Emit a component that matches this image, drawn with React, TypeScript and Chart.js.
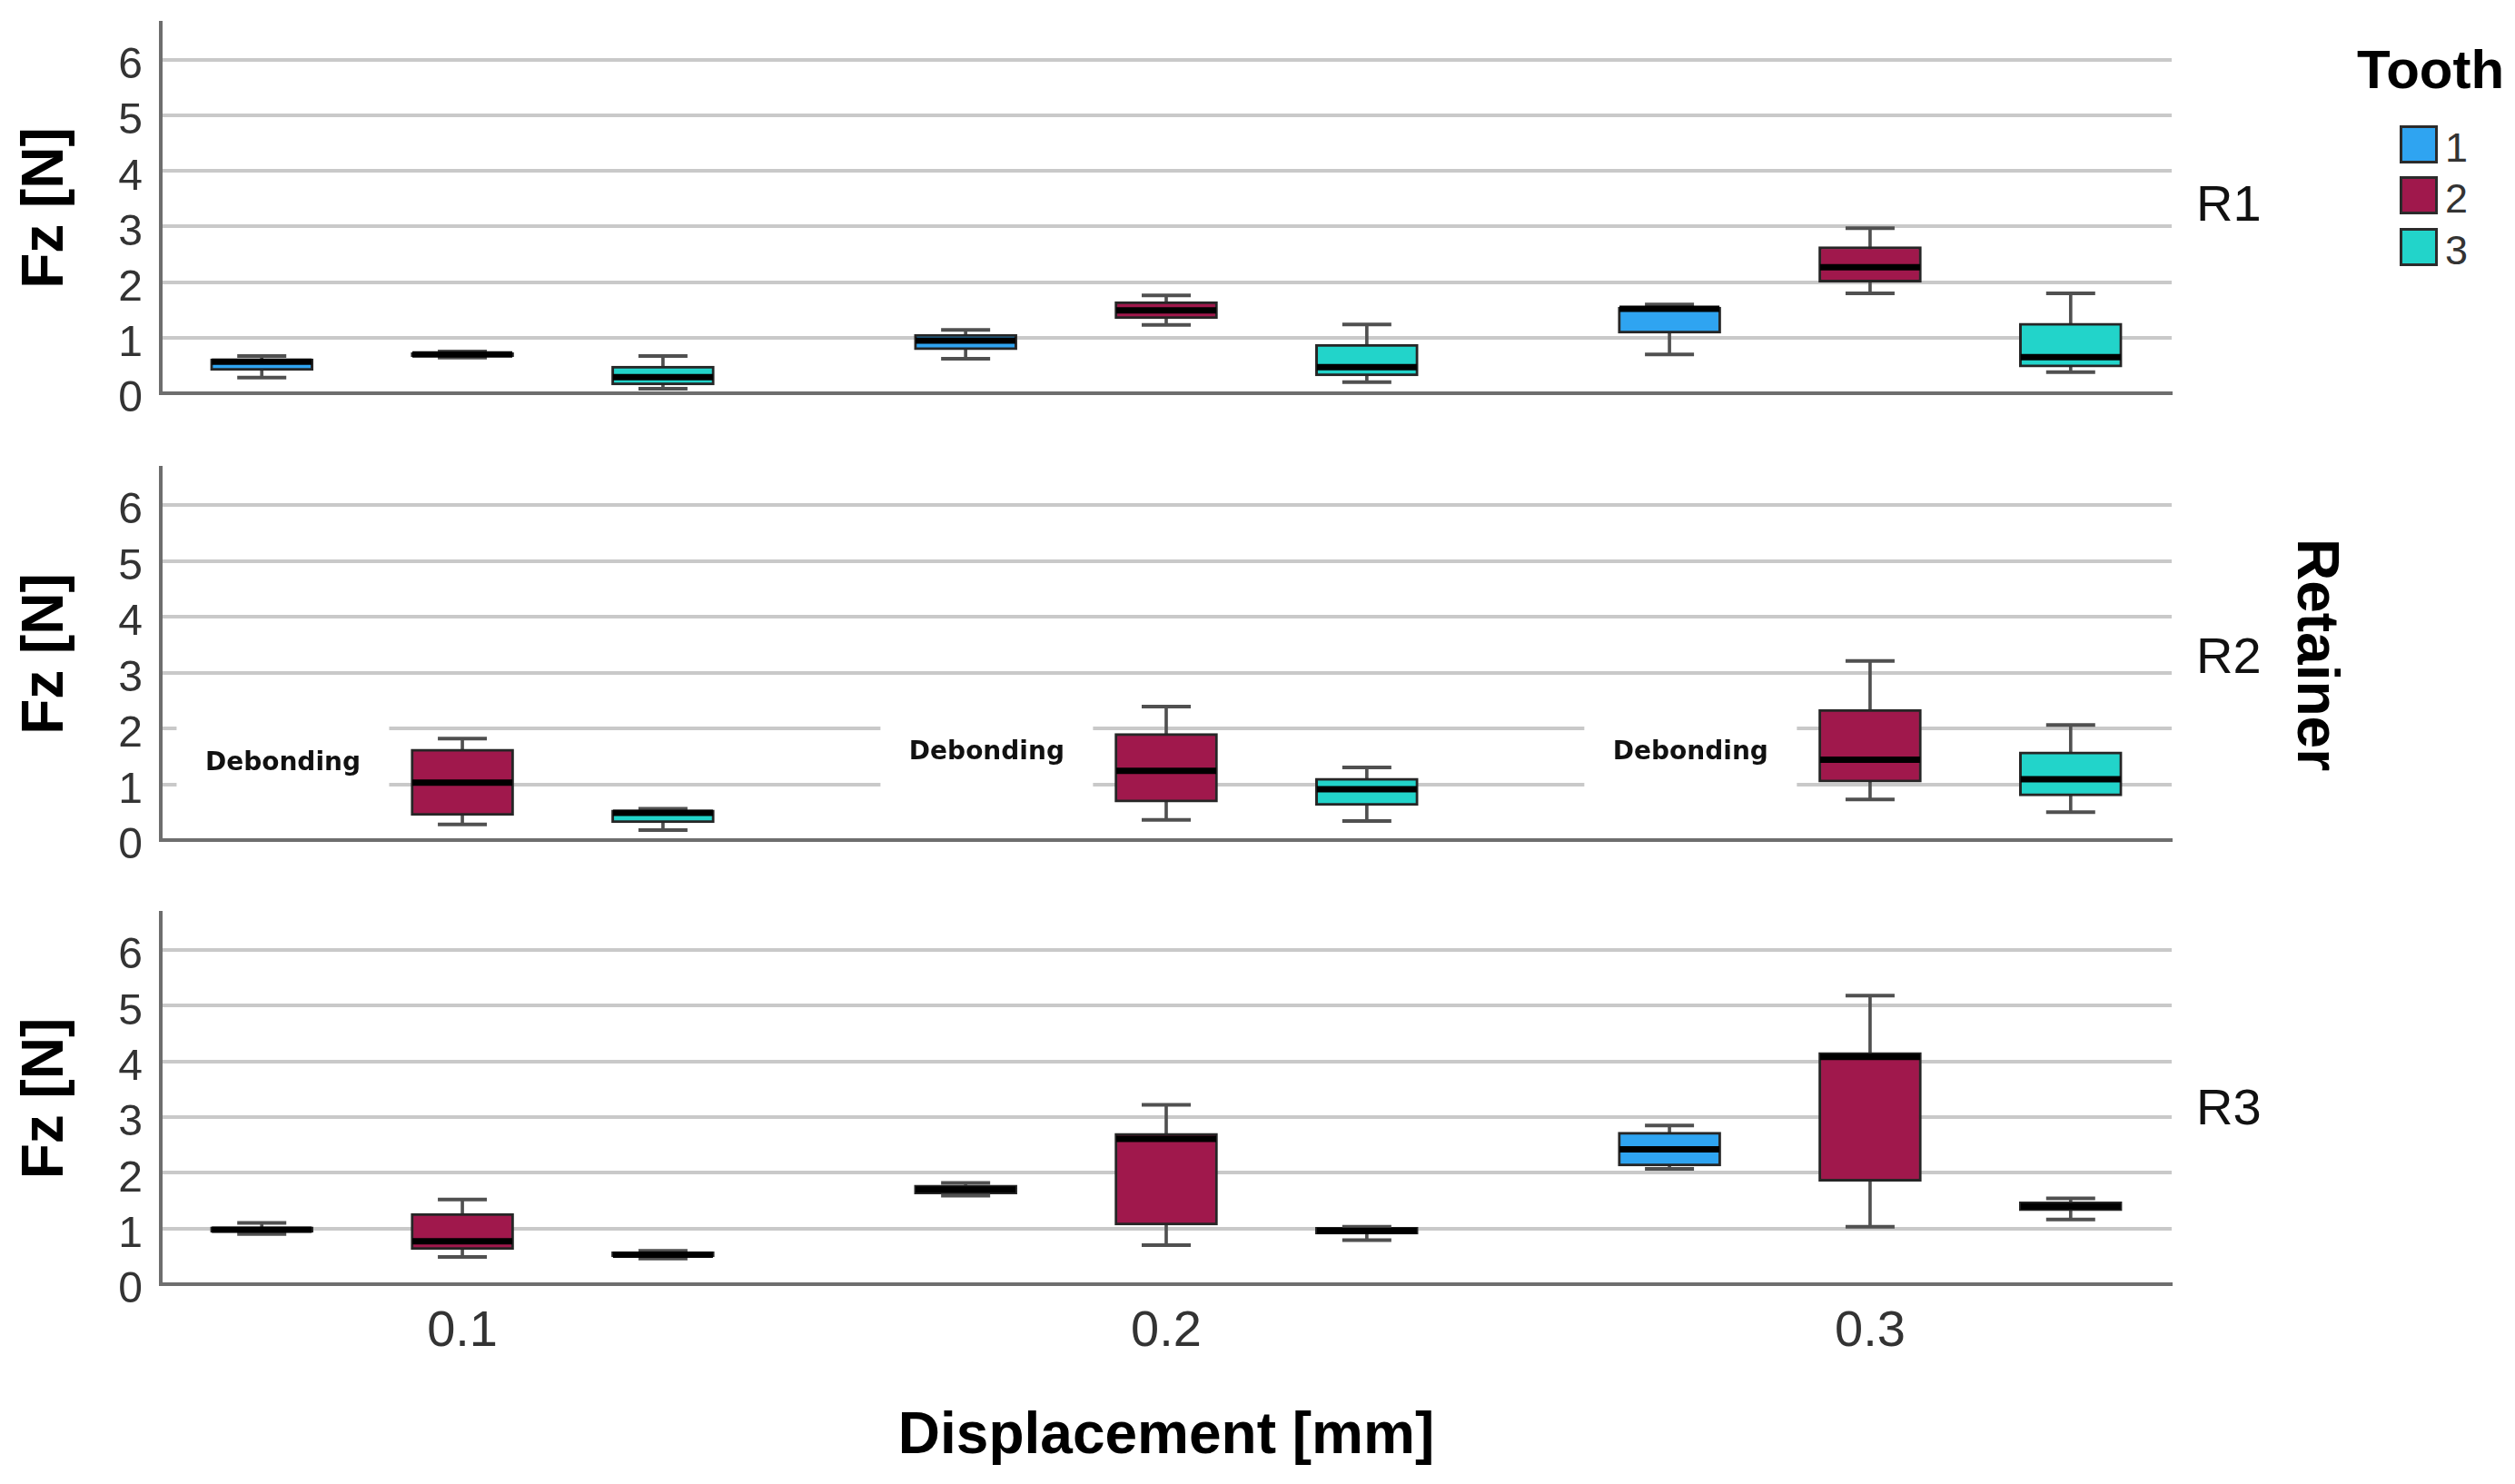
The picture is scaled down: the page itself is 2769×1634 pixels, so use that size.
import React, { useEffect, useRef } from "react";
import { Chart, registerables } from "chart.js";

Chart.register(...registerables);

// ---------- data ----------
const displacements = ["0.1", "0.2", "0.3"];
const teeth = ["1", "2", "3"];
const yTicks = [0, 1, 2, 3, 4, 5, 6];
const panelNames = ["R1", "R2", "R3"];
const debondingText = "Debonding";

// each entry: [min, q1, median, q3, max] for displacement 0.1, 0.2, 0.3 (null = no data)
const r1Tooth1 = [[0.28, 0.41, 0.57, 0.62, 0.67], [0.62, 0.78, 0.95, 1.06, 1.14], [0.7, 1.08, 1.52, 1.55, 1.6]];
const r1Tooth2 = [[0.64, 0.66, 0.7, 0.73, 0.75], [1.23, 1.34, 1.49, 1.65, 1.76], [1.8, 2.0, 2.27, 2.64, 2.97]];
const r1Tooth3 = [[0.08, 0.15, 0.29, 0.49, 0.67], [0.2, 0.31, 0.47, 0.88, 1.24], [0.38, 0.47, 0.65, 1.26, 1.8]];

const r2Tooth1 = [null, null, null];
const r2Tooth2 = [[0.28, 0.44, 1.03, 1.63, 1.82], [0.36, 0.68, 1.24, 1.91, 2.39], [0.73, 1.04, 1.44, 2.34, 3.21]];
const r2Tooth3 = [[0.18, 0.31, 0.49, 0.54, 0.56], [0.34, 0.62, 0.91, 1.11, 1.3], [0.5, 0.79, 1.09, 1.58, 2.06]];

const r3Tooth1 = [[0.9, 0.93, 0.98, 1.03, 1.1], [1.59, 1.62, 1.7, 1.78, 1.82], [2.07, 2.12, 2.42, 2.73, 2.85]];
const r3Tooth2 = [[0.49, 0.62, 0.77, 1.27, 1.52], [0.7, 1.06, 2.61, 2.71, 3.22], [1.03, 1.85, 4.08, 4.16, 5.18]];
const r3Tooth3 = [[0.46, 0.49, 0.53, 0.58, 0.6], [0.79, 0.9, 0.96, 1.02, 1.03], [1.16, 1.32, 1.4, 1.48, 1.54]];

const debondingLevels = [1.37, 1.57, 1.57];

// ---------- style ----------
const COLORS = ["#2fa4f1", "#a0184c", "#22d4ca"];
const TOOTH_OFFSETS = [-0.285, 0, 0.285];
const FONT = "'Liberation Sans', Arial, sans-serif";
const Y_MAX = 6.67;
const X_MIN = -0.4285;
const X_MAX = 2.4285;

type Box = number[] | null;

function buildDatasets(series: Box[][]) {
  const ds: any[] = [];
  series.forEach((toothData, t) => {
    const off = TOOTH_OFFSETS[t];
    const pts: { i: number; v: number[] }[] = [];
    toothData.forEach((v, i) => {
      if (v) pts.push({ i, v });
    });
    ds.push({
      type: "bar",
      label: "whisker " + teeth[t],
      data: pts.map((p) => ({ x: p.i + off, y: [p.v[0], p.v[4]] })),
      barThickness: 3,
      backgroundColor: "#505050",
      borderWidth: 0,
      grouped: false,
      order: 4,
    });
    ds.push({
      type: "bar",
      label: "Tooth " + teeth[t],
      data: pts.map((p) => ({ x: p.i + off, y: [p.v[1], p.v[3]] })),
      barThickness: 113,
      backgroundColor: COLORS[t],
      borderColor: "#262626",
      borderWidth: 3,
      borderSkipped: false,
      grouped: false,
      order: 3,
    });
    const caps: { x: number; y: number }[] = [];
    pts.forEach((p) => {
      caps.push({ x: p.i + off, y: p.v[0] });
      caps.push({ x: p.i + off, y: p.v[4] });
    });
    ds.push({
      type: "line",
      label: "caps " + teeth[t],
      data: caps,
      showLine: false,
      pointStyle: "line",
      pointRadius: 27,
      pointHoverRadius: 27,
      pointBorderWidth: 4,
      pointBorderColor: "#505050",
      order: 2,
    });
    ds.push({
      type: "line",
      label: "median " + teeth[t],
      data: pts.map((p) => ({ x: p.i + off, y: p.v[2] })),
      showLine: false,
      pointStyle: "line",
      pointRadius: 55,
      pointHoverRadius: 55,
      pointBorderWidth: 7,
      pointBorderColor: "#000000",
      order: 1,
    });
  });
  return ds;
}

const debondPlugin = {
  id: "debond",
  beforeDatasetsDraw(chart: any, _args: any, opts: any) {
    if (!opts || !opts.show) return;
    const { ctx } = chart;
    const x = chart.scales.x;
    const y = chart.scales.y;
    ctx.save();
    debondingLevels.forEach((lvl, i) => {
      const cx = x.getPixelForValue(i - 0.255);
      const cy = y.getPixelForValue(lvl);
      const top = y.getPixelForValue(2.25);
      const bot = y.getPixelForValue(0.8);
      ctx.fillStyle = "#ffffff";
      ctx.fillRect(cx - 117, top, 234, bot - top);
      ctx.fillStyle = "#111111";
      ctx.font = "bold 28px 'DejaVu Sans', sans-serif";
      ctx.textAlign = "center";
      ctx.textBaseline = "middle";
      ctx.fillText(debondingText, cx, cy);
    });
    ctx.restore();
  },
};

function makeConfig(series: Box[][], isBottom: boolean, showDebond: boolean) {
  return {
    type: "bar",
    data: { datasets: buildDatasets(series) },
    plugins: [debondPlugin],
    options: {
      animation: false,
      responsive: false,
      events: [],
      layout: { autoPadding: false, padding: { top: 25, right: 9, left: 0, bottom: 0 } },
      plugins: {
        legend: { display: false },
        tooltip: { enabled: false },
        debond: { show: showDebond },
      },
      scales: {
        x: {
          type: "linear",
          min: X_MIN,
          max: X_MAX,
          offset: false,
          afterBuildTicks: (s: any) => {
            s.ticks = displacements.map((_d, i) => ({ value: i }));
          },
          afterFit: (s: any) => {
            s.height = isBottom ? 220 : 40;
            s.paddingLeft = 0;
            s.paddingRight = 0;
          },
          grid: { display: false, drawTicks: false, offset: false },
          border: { display: true, color: "#6e6e6e", width: 4 },
          ticks: {
            display: isBottom,
            autoSkip: false,
            maxRotation: 0,
            padding: 19,
            color: "#333333",
            font: { family: FONT, size: 56 },
            callback: (v: number) => displacements[Math.round(v)],
          },
          title: {
            display: isBottom,
            text: "Displacement [mm]",
            color: "#000000",
            font: { family: FONT, size: 64, weight: "bold" },
            padding: { top: 0, bottom: 13 },
          },
        },
        y: {
          type: "linear",
          min: 0,
          max: Y_MAX,
          afterBuildTicks: (s: any) => {
            s.ticks = yTicks.map((v) => ({ value: v }));
          },
          afterFit: (s: any) => {
            s.width = 177;
            s.paddingTop = 0;
            s.paddingBottom = 0;
          },
          grid: {
            drawTicks: false,
            lineWidth: 4,
            color: (c: any) => (c.tick && c.tick.value === 0 ? "rgba(0,0,0,0)" : "#c9c9c9"),
          },
          border: { display: true, color: "#6e6e6e", width: 4 },
          ticks: {
            autoSkip: false,
            padding: 20,
            labelOffset: 7,
            color: "#333333",
            font: { family: FONT, size: 48 },
            callback: (v: number) => String(v),
          },
          title: {
            display: true,
            text: "Fz [N]",
            color: "#000000",
            font: { family: FONT, size: 64, weight: "bold" },
            padding: { top: 13, bottom: 0 },
          },
        },
      },
    },
  };
}

function Panel(props: { series: Box[][]; top: number; height: number; isBottom: boolean; debond: boolean }) {
  const ref = useRef<HTMLCanvasElement | null>(null);
  useEffect(() => {
    if (!ref.current) return;
    const chart = new Chart(ref.current, makeConfig(props.series, props.isBottom, props.debond) as any);
    return () => chart.destroy();
  }, []);
  return (
    <canvas
      ref={ref}
      width={2400}
      height={props.height}
      style={{ position: "absolute", left: 0, top: props.top, width: 2400, height: props.height }}
    />
  );
}

export default function App() {
  const panelCenters = [224, 722, 1219];
  const legendTops = [138, 194, 251];
  return (
    <div
      style={{
        position: "absolute",
        left: 0,
        top: 0,
        width: 2769,
        height: 1634,
        background: "#ffffff",
        overflow: "hidden",
        fontFamily: FONT,
      }}
    >
      <Panel series={[r1Tooth1, r1Tooth2, r1Tooth3]} top={0} height={473} isBottom={false} debond={false} />
      <Panel series={[r2Tooth1, r2Tooth2, r2Tooth3]} top={490} height={475} isBottom={false} debond={true} />
      <Panel series={[r3Tooth1, r3Tooth2, r3Tooth3]} top={980} height={654} isBottom={true} debond={false} />

      {panelNames.map((n, i) => (
        <div
          key={n}
          style={{
            position: "absolute",
            left: 2418,
            top: panelCenters[i] - 28,
            height: 56,
            lineHeight: "56px",
            fontSize: 56,
            color: "#111111",
            whiteSpace: "nowrap",
          }}
        >
          {n}
        </div>
      ))}

      <div
        style={{
          position: "absolute",
          left: 2552 - 200,
          top: 721 - 32,
          width: 400,
          height: 64,
          lineHeight: "64px",
          fontSize: 64,
          fontWeight: "bold",
          textAlign: "center",
          color: "#000000",
          transform: "rotate(90deg)",
          whiteSpace: "nowrap",
        }}
      >
        Retainer
      </div>

      <div
        style={{
          position: "absolute",
          left: 2595,
          top: 47,
          height: 60,
          lineHeight: "60px",
          fontSize: 60,
          fontWeight: "bold",
          color: "#000000",
          whiteSpace: "nowrap",
        }}
      >
        Tooth
      </div>

      {teeth.map((t, i) => (
        <React.Fragment key={t}>
          <div
            style={{
              position: "absolute",
              left: 2642,
              top: legendTops[i],
              width: 42,
              height: 42,
              boxSizing: "border-box",
              border: "3px solid #2b2b2b",
              background: COLORS[i],
            }}
          />
          <div
            style={{
              position: "absolute",
              left: 2692,
              top: legendTops[i] + 21 + 4 - 23,
              height: 46,
              lineHeight: "46px",
              fontSize: 45,
              color: "#333333",
            }}
          >
            {t}
          </div>
        </React.Fragment>
      ))}
    </div>
  );
}
